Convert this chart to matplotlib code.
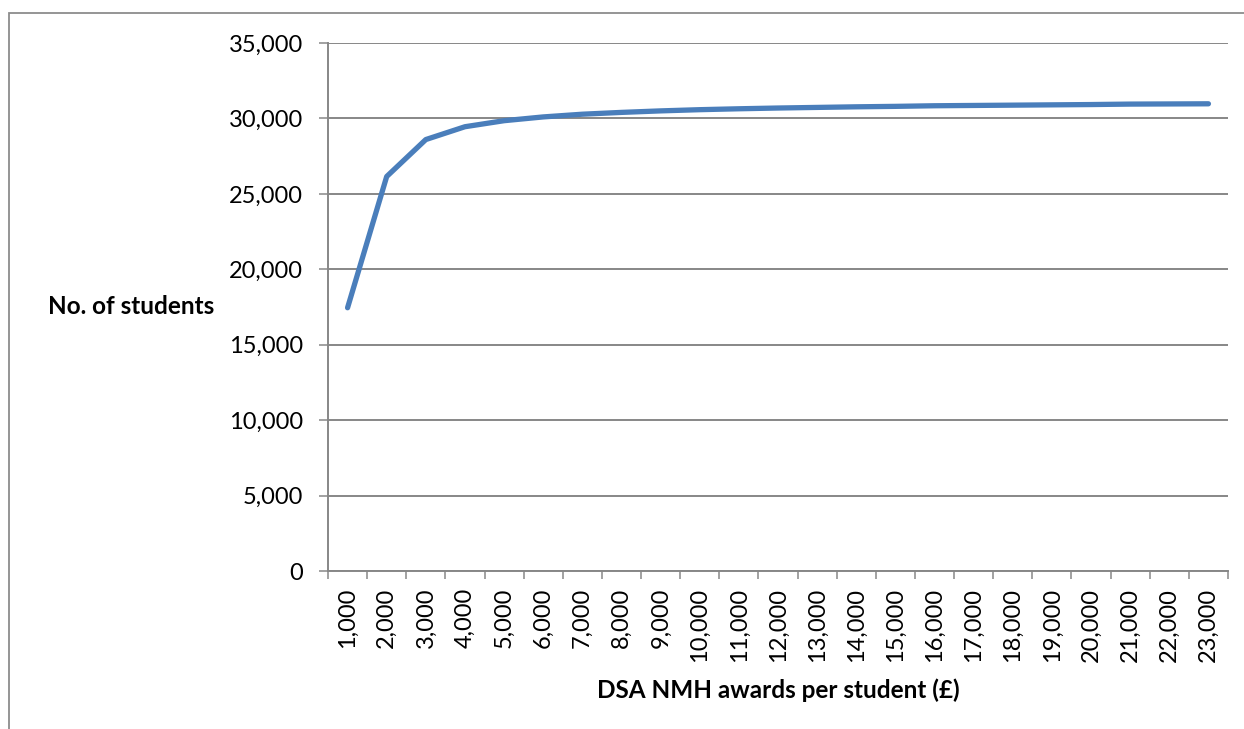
import matplotlib
matplotlib.use("Agg")
import matplotlib.pyplot as plt
from matplotlib.patches import Rectangle
from matplotlib.ticker import FixedLocator, FuncFormatter

# ---------------------------------------------------------------------------
# Data
# ---------------------------------------------------------------------------
award_bands = [1000, 2000, 3000, 4000, 5000, 6000, 7000, 8000, 9000, 10000,
               11000, 12000, 13000, 14000, 15000, 16000, 17000, 18000, 19000,
               20000, 21000, 22000, 23000]
students = [17450, 26150, 28600, 29450, 29850, 30100, 30280, 30400, 30500,
            30580, 30640, 30690, 30730, 30770, 30800, 30840, 30860, 30880,
            30900, 30920, 30950, 30960, 30970]
y_ticks = [0, 5000, 10000, 15000, 20000, 25000, 30000, 35000]

LINE_COLOR = "#4A7EBB"
GRID_COLOR = "#878787"
FONT = ["Lato", "DejaVu Sans"]

plt.rcParams["font.family"] = FONT

fig = plt.figure(figsize=(12.44, 7.29), dpi=100)

# outer chart border (only top/left visible in the crop)
fig.patches.append(Rectangle((9 / 1244, -0.2), 1.2, 1.2 - 13 / 729,
                             transform=fig.transFigure, fill=False,
                             edgecolor="#8c8c8c", linewidth=1.3))

ax = fig.add_axes([328 / 1244, 1 - 571 / 729, 900 / 1244, 528 / 729])

xpos = list(range(len(award_bands)))
ax.plot(xpos, students, color=LINE_COLOR, linewidth=3.8,
        solid_capstyle="round", solid_joinstyle="round", zorder=3)

ax.set_xlim(-0.5, len(award_bands) - 0.5)
ax.set_ylim(0, 35000)

# y axis
ax.set_yticks(y_ticks)
ax.yaxis.set_major_formatter(FuncFormatter(lambda v, p: f"{int(v):,}"))
ax.grid(axis="y", color=GRID_COLOR, linewidth=1.4)
ax.set_axisbelow(True)
ax.tick_params(axis="y", length=6.5, width=1.1, color=GRID_COLOR, pad=11.5,
               labelsize=17)

# x axis: ticks on category boundaries, labels at category centres
ax.xaxis.set_major_locator(FixedLocator([i - 0.5 for i in range(len(award_bands) + 1)]))
ax.xaxis.set_major_formatter(FuncFormatter(lambda v, p: ""))
ax.xaxis.set_minor_locator(FixedLocator(xpos))
ax.set_xticklabels([f"{b:,}" for b in award_bands], minor=True, rotation=90,
                   va="top", ha="center")
ax.tick_params(axis="x", which="major", length=6, width=1.1, color=GRID_COLOR)
ax.tick_params(axis="x", which="minor", length=0, pad=12, labelsize=17)

for side in ("top", "right"):
    ax.spines[side].set_visible(False)
for side in ("left", "bottom"):
    ax.spines[side].set_color(GRID_COLOR)
    ax.spines[side].set_linewidth(1.4)

ax.set_ylabel("No. of students", rotation=0, fontsize=17.5, fontweight="bold",
              ha="center", va="center")
ax.yaxis.set_label_coords(-0.219, 0.5)
ax.set_xlabel("DSA NMH awards per student (£)", fontsize=17.5,
              fontweight="bold", ha="center", va="center")
ax.xaxis.set_label_coords(0.5, -0.225)

fig.savefig("out.png", dpi=100)
